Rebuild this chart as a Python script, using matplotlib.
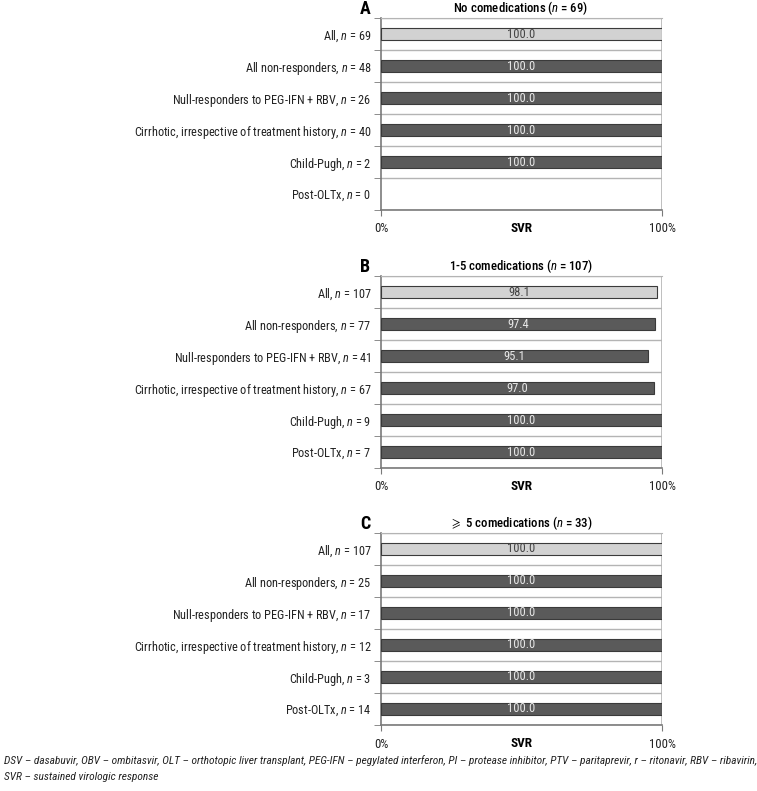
import numpy as np
import matplotlib
matplotlib.use("Agg")
import matplotlib.pyplot as plt

FONT = 'Roboto Condensed'
plt.rcParams['font.family'] = [FONT, 'DejaVu Sans']
plt.rcParams['mathtext.fontset'] = 'custom'
plt.rcParams['mathtext.it'] = FONT + ':italic'
plt.rcParams['mathtext.rm'] = FONT
plt.rcParams['mathtext.bf'] = FONT + ':bold'
plt.rcParams['mathtext.fallback'] = 'stix'

categories = ['All', 'All non-responders', 'Null-responders to PEG-IFN + RBV',
              'Cirrhotic, irrespective of treatment history', 'Child-Pugh', 'Post-OLTx']

n_a = [69, 48, 26, 40, 2, 0]
svr_a = [100.0, 100.0, 100.0, 100.0, 100.0, np.nan]

n_b = [107, 77, 41, 67, 9, 7]
svr_b = [98.1, 97.4, 95.1, 97.0, 100.0, 100.0]

n_c = [107, 25, 17, 12, 3, 14]
svr_c = [100.0, 100.0, 100.0, 100.0, 100.0, 100.0]

panels = [
    ('A', 'No comedications ($n$ = 69)', n_a, svr_a),
    ('B', '1-5 comedications ($n$ = 107)', n_b, svr_b),
    ('C', r'$\geqslant$ 5 comedications ($n$ = 33)', n_c, svr_c),
]

footnote = ('DSV \u2013 dasabuvir, OBV \u2013 ombitasvir, OLT \u2013 orthotopic liver transplant, '
            'PEG-IFN \u2013 pegylated interferon, PI \u2013 protease inhibitor, PTV \u2013 paritaprevir, '
            'r \u2013 ritonavir, RBV \u2013 ribavirin,\nSVR \u2013 sustained virologic response')

W, H = 757, 791
fig = plt.figure(figsize=(W / 100, H / 100), dpi=100)

tops = [18, 276, 533]
ax_h = 192
left, right = 381, 662
grid_col = '#b4b4b4'
spine_col = '#7a7a7a'
fs = 8.8

for (letter, title, ns, vals), top in zip(panels, tops):
    ax = fig.add_axes([left / W, 1 - (top + ax_h) / H, (right - left) / W, ax_h / H])
    y = np.arange(len(categories))
    colors = ['#d2d2d2'] + ['#5a5a5a'] * (len(categories) - 1)
    ok = ~np.isnan(vals)
    ax.barh(y[ok], np.array(vals)[ok], height=0.4, color=np.array(colors)[ok],
            edgecolor='#3a3a3a', linewidth=0.8, zorder=3)
    for i, val in enumerate(vals):
        if np.isnan(val):
            continue
        tc = '#444444' if i == 0 else '#e8e8e8'
        ax.text(val / 2, i, f'{val:.1f}', ha='center', va='center', fontsize=9,
                color=tc, zorder=4)
    ax.set_xlim(0, 100)
    ax.set_ylim(len(categories) - 0.5, -0.5)
    ax.set_yticks(y)
    ax.set_yticklabels([f'{c}, $n$ = {k}' for c, k in zip(categories, ns)], fontsize=fs,
                       color='#222222')
    ax.tick_params(axis='y', which='major', length=0, pad=7)
    ax.set_yticks(np.arange(-0.5, len(categories), 1), minor=True)
    ax.tick_params(axis='y', which='minor', length=5, color=spine_col, direction='out')
    ax.set_xticks([0, 100])
    ax.set_xticklabels(['0%', '100%'], fontsize=9.2, color='#222222')
    ax.tick_params(axis='x', length=4, color=spine_col, pad=5)
    ax.grid(axis='y', which='minor', color=grid_col, linewidth=1.0, zorder=0)
    ax.axvline(100, color=grid_col, linewidth=1.2, zorder=1)
    for s in ['left', 'bottom']:
        ax.spines[s].set_color(spine_col)
        ax.spines[s].set_linewidth(1.2)
    ax.spines['right'].set_visible(False)
    ax.spines['top'].set_color(grid_col)
    ax.set_xlabel('SVR', fontsize=9.5, fontweight='bold', labelpad=-10)
    fig.text(365 / W, 1 - (top - 9) / H, letter, fontsize=13, fontweight='bold',
             ha='center', va='center')
    fig.text(521 / W, 1 - (top - 10) / H, title, fontsize=9.2, fontweight='medium',
             ha='center', va='center')

fig.text(4 / W, 1 - 755 / H, footnote, fontsize=8.2, style='italic',
         ha='left', va='top', color='#222222', linespacing=1.75)

fig.savefig('out.png', dpi=100)
